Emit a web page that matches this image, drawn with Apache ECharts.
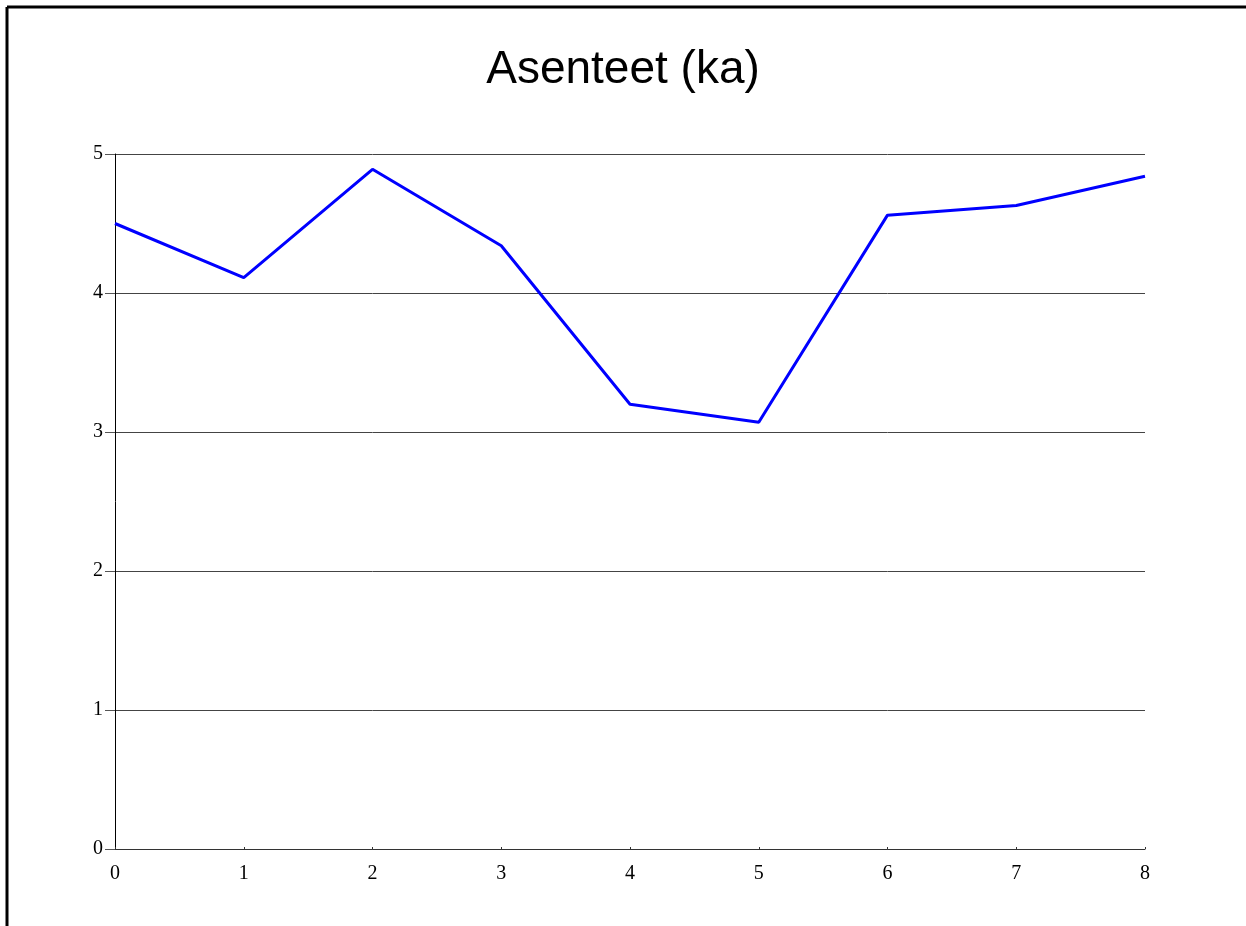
<!DOCTYPE html>
<html>
<head>
<meta charset="utf-8">
<script src="https://cdn.jsdelivr.net/npm/echarts@6/dist/echarts.min.js"></script>
<style>
html,body{margin:0;padding:0;background:#fff;}
#chart{width:1246px;height:926px;}
</style>
</head>
<body>
<div id="chart"></div>
<script>
const titleText = 'Asenteet (ka)';
const xValues = [0, 1, 2, 3, 4, 5, 6, 7, 8];
const seriesValues = [4.5, 4.11, 4.89, 4.34, 3.2, 3.07, 4.56, 4.63, 4.84];
const yTicks = [0, 1, 2, 3, 4, 5];

const chart = echarts.init(document.getElementById('chart'), null, {renderer: 'canvas'});
const data = xValues.map((x, i) => [x, seriesValues[i]]);
chart.setOption({
  animation: false,
  backgroundColor: '#fff',
  title: {
    text: titleText,
    left: 'center',
    top: 42,
    textStyle: {fontFamily: 'Liberation Sans', fontSize: 46, fontWeight: 'normal', color: '#000'}
  },
  graphic: [
    {type: 'line', shape: {x1: 7, y1: 7, x2: 1246, y2: 7}, style: {stroke: '#000', lineWidth: 3}},
    {type: 'line', shape: {x1: 7, y1: 7, x2: 7, y2: 926}, style: {stroke: '#000', lineWidth: 3}}
  ],
  grid: {left: 115, right: 101, top: 154, bottom: 77, containLabel: false},
  xAxis: {
    type: 'value', min: 0, max: 8, interval: 1,
    axisLine: {show: true, onZero: false, lineStyle: {color: '#333', width: 1}},
    axisTick: {show: true, inside: true, length: 2, lineStyle: {color: '#333'}},
    axisLabel: {margin: 15, fontFamily: 'Liberation Serif', fontSize: 20, color: '#000',
      formatter: v => String(v)},
    splitLine: {show: false}
  },
  yAxis: {
    type: 'value', min: 0, max: 5, interval: 1,
    axisLine: {show: true, lineStyle: {color: '#000', width: 1}},
    axisTick: {show: true, length: 10, lineStyle: {color: '#555'}},
    axisLabel: {margin: 12, fontFamily: 'Liberation Serif', fontSize: 20, color: '#000',
      formatter: v => yTicks.includes(v) ? String(v) : ''},
    splitLine: {show: true, lineStyle: {color: '#444', width: 1}}
  },
  series: [{
    type: 'line',
    data: data,
    symbol: 'none',
    lineStyle: {color: '#0000ff', width: 3},
    itemStyle: {color: '#0000ff'}
  }]
});
</script>
</body>
</html>
